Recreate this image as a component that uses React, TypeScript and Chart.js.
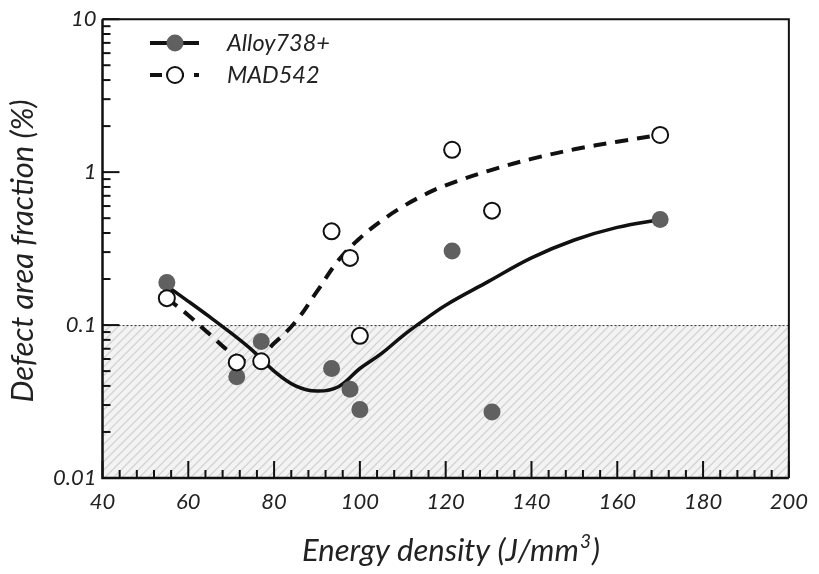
import React, { useEffect, useRef } from "react";
import { Chart, registerables } from "chart.js";

Chart.register(...registerables);

// ---- data ----
const energyDensity = [55, 71.3, 77, 93.4, 97.7, 100, 121.5, 130.8, 170];
const alloy738 = [0.19, 0.046, 0.078, 0.052, 0.038, 0.028, 0.305, 0.027, 0.49];
const mad542 = [0.15, 0.057, 0.058, 0.41, 0.275, 0.085, 1.4, 0.56, 1.75];

// trend curves
const alloyFitX = [55, 60, 65, 70, 75, 80, 85, 90, 95, 100, 105, 110, 115, 120, 130, 140, 150, 160, 170];
const alloyFitY = [0.18, 0.143, 0.113, 0.0885, 0.068, 0.05, 0.04, 0.037, 0.0395, 0.052, 0.065, 0.085, 0.108, 0.135, 0.193, 0.275, 0.36, 0.435, 0.49];

const madFitX = [55, 60, 65, 70, 75, 80, 85, 90, 95, 100, 105, 110, 115, 120, 130, 140, 150, 160, 170];
const madFitY = [0.15, 0.116, 0.087, 0.066, 0.0575, 0.076, 0.105, 0.166, 0.265, 0.37, 0.48, 0.595, 0.71, 0.82, 1.02, 1.22, 1.41, 1.58, 1.75];

const yMajorTicks = [0.01, 0.1, 1, 10];
const yTickLabels = ["0.01", "0.1", "1", "10"];
const xMin = 40;
const xMax = 200;
const xStep = 20;
const xMinorStep = 4;
const hatchLevel = 0.1;

const seriesNames = ["Alloy738+", "MAD542"];
const xTitle = "Energy density (J/mm";
const xTitleSup = "3";
const yTitle = "Defect area fraction (%)";

const FONT = "Lato";
const TEXT = "#222";
const FILL_GRAY = "#606060";

const toXY = (xs: number[], ys: number[]) => xs.map((x, i) => ({ x, y: ys[i] }));

function drawTicks(chart: any) {
  const { ctx, chartArea: a, scales } = chart;
  const xs = scales.x;
  const ys = scales.y;
  ctx.save();
  ctx.strokeStyle = "#111";
  ctx.lineWidth = 2;
  ctx.setLineDash([]);
  const n = Math.round((xMax - xMin) / xMinorStep);
  for (let i = 0; i <= n; i++) {
    const v = xMin + i * xMinorStep;
    const px = xs.getPixelForValue(v);
    const len = (v - xMin) % xStep === 0 ? 17 : 8;
    ctx.beginPath();
    ctx.moveTo(px, a.bottom);
    ctx.lineTo(px, a.bottom - len);
    ctx.stroke();
  }
  for (let d = 0; d < yMajorTicks.length; d++) {
    const base = yMajorTicks[d];
    const py = ys.getPixelForValue(base);
    ctx.beginPath();
    ctx.moveTo(a.left, py);
    ctx.lineTo(a.left + 17, py);
    ctx.stroke();
    if (d < yMajorTicks.length - 1) {
      for (let k = 2; k <= 9; k++) {
        const pm = ys.getPixelForValue(base * k);
        ctx.beginPath();
        ctx.moveTo(a.left, pm);
        ctx.lineTo(a.left + 8, pm);
        ctx.stroke();
      }
    }
  }
  ctx.restore();
}

const decorPlugin = {
  id: "decor",
  beforeDatasetsDraw(chart: any) {
    const { ctx, chartArea: a, scales } = chart;
    const y = scales.y;
    const yT = y.getPixelForValue(hatchLevel);
    ctx.save();
    ctx.fillStyle = "#f3f3f3";
    ctx.fillRect(a.left, yT, a.right - a.left, a.bottom - yT);
    ctx.beginPath();
    ctx.rect(a.left, yT, a.right - a.left, a.bottom - yT);
    ctx.clip();
    ctx.strokeStyle = "#d4d4d4";
    ctx.lineWidth = 1.4;
    const h = a.bottom - yT;
    ctx.beginPath();
    for (let sx = a.left - h; sx < a.right + 10; sx += 8.6) {
      ctx.moveTo(sx, a.bottom);
      ctx.lineTo(sx + h, yT);
    }
    ctx.stroke();
    ctx.restore();

    ctx.save();
    ctx.setLineDash([2, 2]);
    ctx.strokeStyle = "#333";
    ctx.lineWidth = 1;
    ctx.beginPath();
    ctx.moveTo(a.left, yT + 0.5);
    ctx.lineTo(a.right, yT + 0.5);
    ctx.stroke();
    ctx.restore();

    drawTicks(chart);
  },
  afterDraw(chart: any) {
    const { ctx, chartArea: a } = chart;
    ctx.save();
    // frame
    ctx.strokeStyle = "#111";
    ctx.lineWidth = 2;
    ctx.beginPath();
    ctx.moveTo(a.left, a.top);
    ctx.lineTo(a.right, a.top);
    ctx.lineTo(a.right, a.bottom);
    ctx.stroke();
    ctx.lineWidth = 2.5;
    ctx.beginPath();
    ctx.moveTo(a.left, a.top);
    ctx.lineTo(a.left, a.bottom);
    ctx.lineTo(a.right, a.bottom);
    ctx.stroke();
    ctx.restore();

    ctx.save();
    // legend
    const lx0 = 150, lx1 = 199, mx = 175, tx = 227;
    const ly1 = 43, ly2 = 75;
    ctx.strokeStyle = "#111";
    ctx.lineWidth = 4;
    ctx.beginPath();
    ctx.moveTo(lx0, ly1);
    ctx.lineTo(lx1, ly1);
    ctx.stroke();
    ctx.fillStyle = FILL_GRAY;
    ctx.beginPath();
    ctx.arc(mx, ly1, 8.5, 0, Math.PI * 2);
    ctx.fill();

    ctx.setLineDash([12, 10]);
    ctx.beginPath();
    ctx.moveTo(lx0, ly2);
    ctx.lineTo(lx1, ly2);
    ctx.stroke();
    ctx.setLineDash([]);
    ctx.fillStyle = "#fff";
    ctx.lineWidth = 2;
    ctx.beginPath();
    ctx.arc(mx, ly2, 8, 0, Math.PI * 2);
    ctx.fill();
    ctx.stroke();

    ctx.fillStyle = TEXT;
    ctx.font = `italic 23.5px ${FONT}`;
    ctx.textAlign = "left";
    ctx.textBaseline = "middle";
    ctx.fillText(seriesNames[0], tx, ly1);
    ctx.fillText(seriesNames[1], tx, ly2);

    // x title with superscript
    const big = `italic 31px ${FONT}`;
    const small = `italic 19px ${FONT}`;
    ctx.font = big;
    const wMain = ctx.measureText(xTitle).width;
    const wClose = ctx.measureText(")").width;
    ctx.font = small;
    const wSup = ctx.measureText(xTitleSup).width;
    const total = wMain + wSup + wClose + 2;
    let cx = 451 - total / 2;
    const by = 561;
    ctx.textBaseline = "alphabetic";
    ctx.font = big;
    ctx.fillText(xTitle, cx, by);
    cx += wMain + 1;
    ctx.font = small;
    ctx.fillText(xTitleSup, cx, by - 13);
    cx += wSup + 1;
    ctx.font = big;
    ctx.fillText(")", cx, by);

    // y title
    ctx.translate(23, 251);
    ctx.rotate(-Math.PI / 2);
    ctx.textAlign = "center";
    ctx.textBaseline = "middle";
    ctx.font = big;
    ctx.fillText(yTitle, 0, 0);
    ctx.restore();
  },
};

export default function App() {
  const ref = useRef<HTMLCanvasElement | null>(null);
  useEffect(() => {
    if (!ref.current) return;
    const tickFont = { family: FONT, style: "italic" as const, size: 22 };
    const chart = new Chart(ref.current, {
      type: "scatter",
      data: {
        datasets: [
          {
            label: seriesNames[1],
            data: toXY(energyDensity, mad542),
            pointRadius: 8,
            pointBackgroundColor: "#fff",
            pointBorderColor: "#111",
            pointBorderWidth: 2,
            showLine: false,
            order: 0,
          },
          {
            label: seriesNames[0],
            data: toXY(energyDensity, alloy738),
            pointRadius: 8.5,
            pointBackgroundColor: FILL_GRAY,
            pointBorderWidth: 0,
            showLine: false,
            order: 1,
          },
          {
            label: "MAD542 fit",
            data: toXY(madFitX, madFitY),
            showLine: true,
            pointRadius: 0,
            borderColor: "#111",
            borderWidth: 4,
            borderDash: [13, 9],
            tension: 0.4,
            order: 2,
          },
          {
            label: "Alloy738+ fit",
            data: toXY(alloyFitX, alloyFitY),
            showLine: true,
            pointRadius: 0,
            borderColor: "#111",
            borderWidth: 3.5,
            tension: 0.4,
            order: 3,
          },
        ],
      },
      options: {
        responsive: false,
        animation: false,
        devicePixelRatio: 1,
        layout: { padding: { top: 16, right: 23, left: 0, bottom: 0 } },
        plugins: {
          legend: { display: false },
          tooltip: { enabled: false },
          title: { display: false },
        },
        scales: {
          x: {
            type: "linear",
            min: xMin,
            max: xMax,
            afterFit: (s: any) => {
              s.height = 96;
            },
            grid: { display: false, drawTicks: false },
            border: { display: false },
            ticks: {
              stepSize: xStep,
              padding: 11,
              color: TEXT,
              font: tickFont,
              maxRotation: 0,
              autoSkip: false,
            },
          },
          y: {
            type: "logarithmic",
            min: yMajorTicks[0],
            max: yMajorTicks[yMajorTicks.length - 1],
            afterFit: (s: any) => {
              s.width = 102.5;
            },
            afterBuildTicks: (s: any) => {
              s.ticks = yMajorTicks.map((v) => ({ value: v }));
            },
            grid: { display: false, drawTicks: false },
            border: { display: false },
            ticks: {
              padding: 6,
              color: TEXT,
              font: tickFont,
              autoSkip: false,
              callback: (v: any) => {
                const i = yMajorTicks.findIndex((t) => Math.abs(t - Number(v)) < 1e-9);
                return i >= 0 ? yTickLabels[i] : "";
              },
            },
          },
        },
      },
      plugins: [decorPlugin],
    });
    return () => chart.destroy();
  }, []);

  return (
    <div style={{ position: "fixed", left: 0, top: 0, width: 819, height: 574, background: "#fff" }}>
      <canvas ref={ref} width={819} height={574} style={{ display: "block" }} />
    </div>
  );
}
